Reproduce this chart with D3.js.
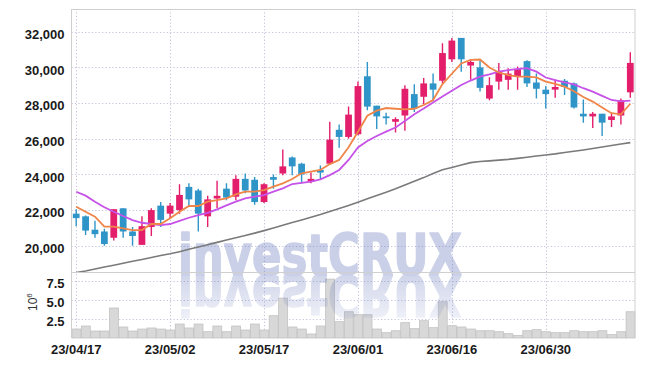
<!DOCTYPE html>
<html><head><meta charset="utf-8">
<script src="https://cdn.jsdelivr.net/npm/d3@7"></script>
<style>html,body{margin:0;padding:0;background:#fff;} svg{display:block;}
.wm{font-family:"DejaVu Sans","Liberation Sans",sans-serif;font-weight:700;font-size:57px;}</style>
</head><body><svg id="c" width="645" height="366"></svg>
<script>
const dates = ["23/04/17","23/04/18","23/04/19","23/04/20","23/04/21","23/04/24","23/04/25","23/04/26","23/04/27","23/04/28",
"23/05/02","23/05/03","23/05/04","23/05/08","23/05/09","23/05/10","23/05/11","23/05/12","23/05/15","23/05/16",
"23/05/17","23/05/18","23/05/19","23/05/22","23/05/23","23/05/24","23/05/25","23/05/26","23/05/30","23/05/31",
"23/06/01","23/06/02","23/06/05","23/06/07","23/06/08","23/06/09","23/06/12","23/06/13","23/06/14","23/06/15",
"23/06/16","23/06/19","23/06/20","23/06/21","23/06/22","23/06/23","23/06/26","23/06/27","23/06/28","23/06/29",
"23/06/30","23/07/03","23/07/04","23/07/05","23/07/06","23/07/07","23/07/10","23/07/11","23/07/12","23/07/13"];
const xTickLabels = ["23/04/17","23/05/02","23/05/17","23/06/01","23/06/16","23/06/30"];

const open = [21800,21650,20900,20800,20450,22100,20800,20050,21050,22250,
21800,22000,23300,23100,21650,22650,23200,22750,23750,23700,
22450,23850,24050,24950,24600,23600,24250,24600,26500,26100,
26250,29500,27850,27250,26950,27300,28500,28350,29100,29250,
30450,31650,30100,30000,28250,29200,29300,29500,30350,29150,
28750,28750,29250,29100,27400,27250,27400,27050,27300,28600];
const high = [22050,21700,21400,20950,22050,22100,21050,21650,22100,22450,
22400,23450,23500,23200,22800,23650,23500,23950,24050,23850,
23500,24000,25400,25000,24650,24100,24500,26950,26800,27800,
29200,30300,27850,27450,27200,29000,29050,29400,29650,31350,
31650,31650,30450,30450,29450,30250,29950,30050,30400,29650,
28950,29300,29350,29150,28200,27500,27400,27450,28250,30850];
const low = [21100,20600,20450,20000,20300,20450,20000,20050,20550,21050,
21550,21800,22200,20800,21050,22100,22550,22550,22950,22300,
22400,23200,23950,23950,23500,23500,23700,24550,25500,26000,
26200,27600,26550,26800,26350,26450,27500,27950,28100,29100,
30300,29750,29300,28650,28150,28750,28750,28750,28900,28250,
27700,28300,28450,27700,26900,26600,26150,26650,26800,28300];
const close = [21550,20850,20650,20100,22050,20800,20550,21100,22000,21450,
22250,22850,22600,21800,22600,22800,22700,23750,23100,22450,
23450,23700,24450,24450,24000,23750,24100,25950,26100,27350,
28950,27800,27250,27150,27100,28800,27700,29100,28750,30800,
31500,30450,30300,28850,29000,29800,29650,29900,29100,28800,
28500,28900,28900,27750,27250,27400,26900,27250,28150,30250];
const volume = [1.18,1.58,0.92,0.92,3.95,1.45,0.92,1.18,1.32,1.18,
1.05,1.84,1.32,1.84,0.83,1.58,0.83,1.58,1.05,1.84,
1.05,2.94,5.26,1.45,1.18,0.53,1.58,7.76,2.15,3.46,
3.07,3.07,1.18,0.70,0.96,2.02,1.23,2.28,1.36,4.78,
1.62,1.45,1.18,0.96,0.96,0.83,0.57,0.35,0.96,1.10,
0.83,0.70,0.70,0.96,0.83,0.83,0.96,0.44,0.83,3.46];
const ma5 = [22190,21910,21630,21070,21070,20980,20880,20880,21220,21220,
21540,21910,22230,22230,22470,22560,22660,22880,23030,23030,
23120,23310,23500,23740,24060,24150,24250,24580,24810,25520,
26390,27290,27570,27720,27680,27650,27680,27890,28170,29060,
29640,30220,30420,30440,29990,29710,29570,29480,29480,29440,
29200,29070,28920,28660,28340,28080,27750,27430,27370,27960];
const ma10 = [23030,22810,22470,22160,21910,21670,21440,21290,21220,21160,
21220,21400,21570,21720,21850,22040,22260,22470,22660,22750,
22840,23030,23220,23460,23530,23590,23720,23960,24250,24810,
25510,25870,26150,26400,26630,26990,27370,27690,28030,28360,
28690,29010,29260,29480,29610,29760,29850,29910,29950,29760,
29430,29290,29160,29040,28830,28640,28400,28170,28090,28130];
const ma120 = [18500,18590,18700,18810,18910,19020,19130,19230,19340,19450,
19550,19670,19800,19930,20060,20190,20320,20450,20580,20710,
20850,21000,21150,21300,21450,21600,21750,21920,22090,22260,
22440,22630,22820,23000,23190,23400,23610,23820,24050,24260,
24390,24530,24660,24720,24760,24800,24840,24900,24960,25030,
25090,25150,25230,25300,25370,25450,25540,25620,25700,25780];
const priceTicks = [20000,22000,24000,26000,28000,30000,32000];
const volTicks = [2.5,5.0,7.5];

const L=71.5, R=635, T=9, PB=272, VB=338;
const svg = d3.select("#c");
svg.append("rect").attr("width",645).attr("height",366).attr("fill","#fff");

const x = d3.scaleBand().domain(dates).range([L,R]).padding(0);
const cx = d => x(d) + x.bandwidth()/2;
const y = d3.scaleLinear().domain([18530,33270]).range([PB,T]);
const yv = d3.scaleLinear().domain([0,8.7]).range([VB,PB]);

const defs = svg.append("defs");
defs.append("clipPath").attr("id","pclip").append("rect").attr("x",L).attr("y",T).attr("width",R-L).attr("height",PB-T);

const gridColor = "#c2c2dc";
const grid = svg.append("g").attr("stroke",gridColor).attr("stroke-width",1).attr("stroke-dasharray","1.2,2.2");
priceTicks.forEach(t => grid.append("line").attr("x1",L).attr("x2",R).attr("y1",Math.round(y(t))+0.5).attr("y2",Math.round(y(t))+0.5));
volTicks.forEach(t => grid.append("line").attr("x1",L).attr("x2",R).attr("y1",Math.round(yv(t))+0.5).attr("y2",Math.round(yv(t))+0.5));
xTickLabels.forEach(t => grid.append("line").attr("x1",Math.round(cx(t))+0.5).attr("x2",Math.round(cx(t))+0.5).attr("y1",T).attr("y2",VB));

// volume bars
svg.append("g").selectAll("rect").data(dates).join("rect")
  .attr("x", d => x(d)+0.5).attr("width", x.bandwidth()-0.5)
  .attr("y", (d,i) => yv(volume[i])).attr("height", (d,i) => VB - yv(volume[i]))
  .attr("fill","#d8d8d8").attr("stroke","#c2c2c2").attr("stroke-width",0.8);

// watermark
const grad = defs.append("linearGradient").attr("id","fade").attr("x1",0).attr("y1",0).attr("x2",0).attr("y2",1);
grad.append("stop").attr("offset",0).attr("stop-color","#fff").attr("stop-opacity",0.9);
grad.append("stop").attr("offset",1).attr("stop-color","#fff").attr("stop-opacity",0.25);
const mask = defs.append("mask").attr("id","wmask").attr("maskUnits","userSpaceOnUse").attr("x",0).attr("y",0).attr("width",645).attr("height",366);
mask.append("rect").attr("x",160).attr("y",274.5).attr("width",330).attr("height",48).attr("fill","url(#fade)");
const wm = svg.append("g").attr("opacity",0.34).attr("fill","#6677bb").attr("stroke","#6677bb").attr("stroke-width",1.6).attr("stroke-linejoin","round");
wm.append("text").attr("class","wm").attr("x",178).attr("y",274.5).attr("textLength",284).attr("lengthAdjust","spacingAndGlyphs")
  .text("investCRUX");
wm.append("g").attr("mask","url(#wmask)").append("g").attr("transform","translate(0,549) scale(1,-1)")
  .append("text").attr("class","wm").attr("x",178).attr("y",274.5).attr("textLength",284).attr("lengthAdjust","spacingAndGlyphs")
  .text("investCRUX");

// candles
const up = "#e31f6c", down = "#2f95c8";
const cg = svg.append("g").attr("clip-path","url(#pclip)");
const bw = x.bandwidth()*0.72;
dates.forEach((d,i) => {
  const col = close[i] >= open[i] ? up : down;
  cg.append("line").attr("x1",cx(d)).attr("x2",cx(d)).attr("y1",y(high[i])).attr("y2",y(low[i]))
    .attr("stroke",col).attr("stroke-width",1.4);
  const top = y(Math.max(open[i],close[i])), bot = y(Math.min(open[i],close[i]));
  cg.append("rect").attr("x",cx(d)-bw/2).attr("width",bw).attr("y",top).attr("height",Math.max(1.5,bot-top)).attr("fill",col);
});

// moving averages
const line = d3.line().x((d,i) => cx(dates[i])).y(d => y(d)).curve(d3.curveLinear);
const lg = svg.append("g").attr("clip-path","url(#pclip)").attr("fill","none");
lg.append("path").attr("d",line(ma120)).attr("stroke","#7a7a7a").attr("stroke-width",1.6);
lg.append("path").attr("d",line(ma10)).attr("stroke","#c652e8").attr("stroke-width",1.8);
lg.append("path").attr("d",line(ma5)).attr("stroke","#ef8548").attr("stroke-width",1.8);

// frame
const fr = svg.append("g").attr("stroke","#cfcfcf").attr("stroke-width",1);
fr.append("line").attr("x1",L).attr("x2",L).attr("y1",T).attr("y2",VB);
fr.append("line").attr("x1",R).attr("x2",R).attr("y1",T).attr("y2",VB);
fr.append("line").attr("x1",L).attr("x2",R).attr("y1",T+0.5).attr("y2",T+0.5);
fr.append("line").attr("x1",L).attr("x2",R).attr("y1",PB+0.5).attr("y2",PB+0.5);

// axes
const font = "'Liberation Sans',Arial,sans-serif";
const ya = svg.append("g").attr("transform",`translate(${L},0)`)
  .call(d3.axisLeft(y).tickValues(priceTicks).tickFormat(d3.format(",")).tickSize(0).tickPadding(7));
const va = svg.append("g").attr("transform",`translate(${L},0)`)
  .call(d3.axisLeft(yv).tickValues(volTicks).tickFormat(d3.format(".1f")).tickSize(0).tickPadding(7));
const xa = svg.append("g").attr("transform",`translate(0,${VB})`)
  .call(d3.axisBottom(x).tickValues(xTickLabels).tickSize(0).tickPadding(7));
[ya,va,xa].forEach(g => {
  g.select(".domain").remove();
  g.selectAll("text").attr("fill","#1a1a1a").style("font-family",font).style("font-size","13px").style("font-weight","600");
});
ya.selectAll("text").attr("dy","0.52em");
va.selectAll("text").attr("dy","0.52em");

// 10^6 label
const ul = svg.append("text").attr("transform","translate(37,311) rotate(-90)")
  .attr("fill","#333").style("font-family",font).style("font-size","12px");
ul.append("tspan").text("10");
ul.append("tspan").attr("dy","-5").style("font-size","8px").text("6");
</script></body></html>
